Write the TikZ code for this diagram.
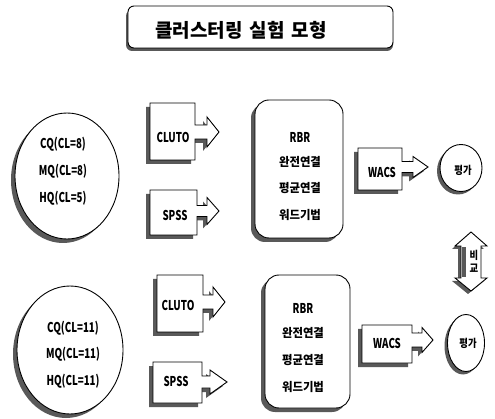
\documentclass[tikz,border=0pt]{standalone}
\usepackage{fontspec}
\setmainfont{Noto Sans CJK KR}
\newfontfamily\condfont{Noto Sans CJK KR}[FakeStretch=0.72]
\newfontfamily\krfont{Noto Sans CJK KR}[FakeStretch=0.95]
\newfontfamily\krnarrow{Noto Sans CJK KR}[FakeStretch=0.85]
\usetikzlibrary{shapes.geometric,shadows}

\tikzset{
  shadowfill/.style={fill=black!65, draw=none},
  outline/.style={draw=black, line width=0.9pt, fill=white},
  myshadow/.style={drop shadow={shadow xshift=-4pt, shadow yshift=-4pt, fill=black!65, opacity=1}},
  groupoval/.style={ellipse, outline, myshadow, inner sep=0pt},
  methodbox/.style={rectangle, rounded corners=14pt, outline, myshadow, inner sep=0pt},
  evaloval/.style={ellipse, outline, inner sep=0pt, drop shadow={shadow xshift=-3pt, shadow yshift=-3pt, fill=black!65, opacity=1}},
  latintext/.style={font=\condfont\bfseries\fontsize{13.5}{13.5}\selectfont, inner sep=0pt},
  kortext/.style={font=\krfont\bfseries\fontsize{12}{12}\selectfont, inner sep=0pt},
  evaltext/.style={font=\krnarrow\bfseries\fontsize{11}{11}\selectfont, inner sep=0pt},
  titletext/.style={font=\bfseries\fontsize{19}{19}\selectfont, inner sep=0pt},
}

% arrow box: #1 left, #2 top, #3 right, #4 bottom, #5 notch x, #6 tip x, #7 tip y, #8 shaft half, #9 head half
\newcommand\arrowboxpath[9]{(#1,#2) -- (#3,#2) -- (#3,{#7-#8}) -- (#5,{#7-#8}) -- (#5,{#7-#9}) -- (#6,#7) -- (#5,{#7+#9}) -- (#5,{#7+#8}) -- (#3,{#7+#8}) -- (#3,#4) -- (#1,#4) -- cycle}
\newcommand\arrowbox[9]{%
  \fill[shadowfill, shift={(-4,4)}] \arrowboxpath{#1}{#2}{#3}{#4}{#5}{#6}{#7}{#8}{#9};
  \draw[outline] \arrowboxpath{#1}{#2}{#3}{#4}{#5}{#6}{#7}{#8}{#9};
}

\begin{document}
\begin{tikzpicture}[x=1pt,y=-1pt]
\useasboundingbox (0,0) rectangle (495,419);

% title
\fill[shadowfill, rounded corners=6pt] (126,10) rectangle (393,51);
\draw[outline, rounded corners=6pt] (128,6) rectangle (393,48);
\node[titletext] (title) at (241,30) {클러스터링\hspace{7pt}실험\hspace{7pt}모형};

% data groups
\node[groupoval, minimum width=104pt, minimum height=126pt] (grpA) at (67,176) {};
\node[latintext] (cqA) at (63,144) {CQ(CL=8)};
\node[latintext] (mqA) at (63,171) {MQ(CL=8)};
\node[latintext] (hqA) at (63,198) {HQ(CL=5)};

\node[groupoval, minimum width=106pt, minimum height=128pt] (grpB) at (70,350) {};
\node[latintext] (cqB) at (73,328) {CQ(CL=11)};
\node[latintext] (mqB) at (73,354) {MQ(CL=11)};
\node[latintext] (hqB) at (73,381) {HQ(CL=11)};

% tools
\arrowbox{150}{103}{195}{160}{207}{219}{132}{7}{15}
\node[latintext] (clutoA) at (173,137) {CLUTO};
\arrowbox{150}{190}{197}{235}{207}{219}{211}{5.5}{13.5}
\node[latintext] (spssA) at (175,215) {SPSS};

\arrowbox{157}{275}{203}{332}{213}{225}{302}{7}{15}
\node[latintext] (clutoB) at (178,305) {CLUTO};
\arrowbox{153}{362}{202}{403}{210}{227}{382}{6}{12}
\node[latintext] (spssB) at (176,381) {SPSS};

% methods
\node[methodbox, minimum width=88pt, minimum height=138pt] (rbrA) at (299,169) {};
\node[latintext] (rA1) at (300,137) {RBR};
\node[kortext] (rA2) at (300,162) {완전연결};
\node[kortext] (rA3) at (300,188) {평균연결};
\node[kortext] (rA4) at (300,215) {워드기법};

\node[methodbox, minimum width=85pt, minimum height=133pt] (rbrB) at (307.5,341.5) {};
\node[latintext] (rB1) at (303,308) {RBR};
\node[kortext] (rB2) at (303,333) {완전연결};
\node[kortext] (rB3) at (303,360) {평균연결};
\node[kortext] (rB4) at (303,387) {워드기법};

% WACS
\arrowbox{358}{148}{402}{190}{413}{428}{167}{5.5}{10.5}
\node[latintext] (wacsA) at (382,172) {WACS};
\arrowbox{362}{325}{412}{363}{422}{433}{340}{7}{12.5}
\node[latintext] (wacsB) at (387,343) {WACS};

% evaluation
\node[evaloval, minimum width=42pt, minimum height=47pt] (evalA) at (461,168) {};
\node[evaltext] (evA) at (463,170) {평가};
\node[evaloval, minimum width=37pt, minimum height=57pt] (evalB) at (466,343) {};
\node[evaltext] (evB) at (468,343) {평가};

% compare double arrow
\fill[shadowfill, shift={(-3,3)}] (471,232) -- (487,246) -- (481,246) -- (481,278) -- (487,278) -- (471,291) -- (455,278) -- (461,278) -- (461,246) -- (455,246) -- cycle;
\draw[outline] (471,232) -- (487,246) -- (481,246) -- (481,278) -- (487,278) -- (471,291) -- (455,278) -- (461,278) -- (461,246) -- (455,246) -- cycle;
\fill[black!65] (461.5,247) rectangle (466,277.5);
\node[evaltext] (cmp1) at (474,255) {비};
\node[evaltext] (cmp2) at (474,268) {교};
\end{tikzpicture}
\end{document}
